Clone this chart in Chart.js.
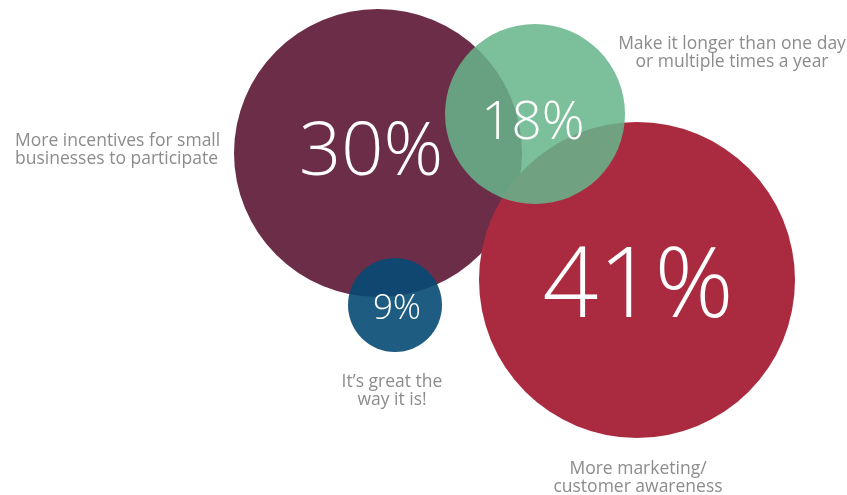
<!DOCTYPE html>
<html>
<head>
<meta charset="utf-8">
<script src="https://cdn.jsdelivr.net/npm/chart.js@4.4.1/dist/chart.umd.min.js"></script>
<style>
  html, body { margin: 0; padding: 0; background: #fff; }
  #wrap { width: 847px; height: 495px; }
</style>
</head>
<body>
<div id="wrap"><canvas id="graficoBurbujas"></canvas></div>
<script>
// survey answers, in drawing order (later bubbles sit on top)
const ANSWERS = [
  ['More incentives for small', 'businesses to participate'],
  ['More marketing/', 'customer awareness'],
  ['Make it longer than one day', 'or multiple times a year'],
  ['It’s great the', 'way it is!']
];
const SHARES = [30, 41, 18, 9];

// bubble placement on the (hidden) layout axes, and bubble radius
const BUBBLE_X = [378, 637, 535, 395];
const BUBBLE_Y = [153, 280, 114, 305];
const BUBBLE_R = [144, 158, 90, 47];

const COLORS = ['#6b2d48', '#aa2b40', 'rgba(102,180,139,0.86)', 'rgba(6,74,116,0.9)'];
const PCT_FONT = [74, 98, 53, 35];
const PCT_NUDGE = [[-7, -4], [1, 2], [-2, 6], [2, 2]];

// where the answer captions go: [align, x, first baseline]
const CAPTION_SPOTS = [
  ['left', 15, 146],
  ['center', 638, 474],
  ['center', 732, 49],
  ['center', 392, 387]
];
const CAPTION_LINE = 17.5;

const bubbleText = {
  id: 'bubbleText',
  afterDatasetsDraw(chart) {
    const ctx = chart.ctx;
    const meta = chart.getDatasetMeta(0);
    ctx.save();
    ctx.textAlign = 'center';
    ctx.textBaseline = 'alphabetic';
    ctx.fillStyle = '#ffffff';
    meta.data.forEach((pt, i) => {
      const size = PCT_FONT[i];
      ctx.font = `300 ${size}px "Open Sans"`;
      const [dx, dy] = PCT_NUDGE[i];
      ctx.fillText(SHARES[i] + '%', pt.x + dx, pt.y + size * 0.357 + dy);
    });

    ctx.fillStyle = '#8c8c8c';
    ctx.font = '17.5px "Open Sans"';
    ANSWERS.forEach((lines, i) => {
      const [align, x, y] = CAPTION_SPOTS[i];
      ctx.textAlign = align;
      lines.forEach((line, j) => ctx.fillText(line, x, y + j * CAPTION_LINE));
    });
    ctx.restore();
  }
};

function draw() {
  const ctx = document.getElementById('graficoBurbujas').getContext('2d');
  new Chart(ctx, {
    type: 'bubble',
    data: {
      datasets: [{
        data: SHARES.map((v, i) => ({ x: BUBBLE_X[i], y: BUBBLE_Y[i], r: BUBBLE_R[i], v })),
        backgroundColor: COLORS,
        borderWidth: 0,
        hoverBorderWidth: 0,
        clip: false
      }]
    },
    options: {
      responsive: true,
      maintainAspectRatio: false,
      animation: false,
      layout: { padding: 0, autoPadding: false },
      plugins: { legend: { display: false }, tooltip: { enabled: false } },
      scales: {
        x: { type: 'linear', display: false, min: 0, max: 847 },
        y: { type: 'linear', display: false, min: 0, max: 495, reverse: true }
      }
    },
    plugins: [bubbleText]
  });
}

Promise.all([
  document.fonts.load('300 74px "Open Sans"'),
  document.fonts.load('17.5px "Open Sans"')
]).then(draw, draw);
</script>
</body>
</html>
